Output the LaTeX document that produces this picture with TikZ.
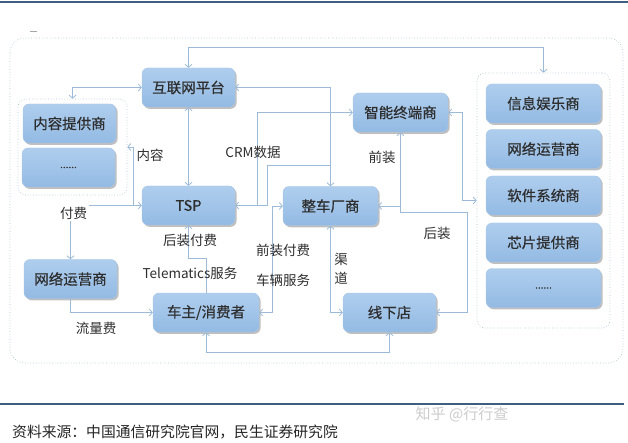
\documentclass[tikz,border=0pt]{standalone}
\usepackage{fontspec}
\setmainfont{Noto Sans CJK SC}
\newfontfamily\boxfont[FakeBold=0.5]{Noto Sans CJK SC}
\usetikzlibrary{arrows.meta,shadows}
\definecolor{boxtop}{HTML}{AFCEEE}
\definecolor{boxbot}{HTML}{93BAE3}
\definecolor{boxline}{HTML}{A9C6E6}
\definecolor{conncol}{HTML}{9DBBD8}
\definecolor{dotc}{HTML}{AFC3D6}
\definecolor{txt}{HTML}{2E2E2E}
\definecolor{rulec}{HTML}{3E5F80}
\tikzset{
 box/.style={rounded corners=6pt, top color=boxtop, bottom color=boxbot, draw=boxline, line width=0.4pt,
   minimum width=93pt, minimum height=39pt, inner sep=0pt, font=\boxfont\fontsize{14.5}{16}\selectfont, text=txt,
   drop shadow={shadow xshift=1.6pt, shadow yshift=-1.8pt, fill=black!45, opacity=0.55}},
 grp/.style={draw=dotc, dotted, line width=0.7pt, rounded corners=8pt, inner sep=0pt},
 lbl/.style={font=\fontsize{13.5}{15}\selectfont, text=txt, inner sep=1pt},
 cline/.style={draw=conncol, line width=0.8pt},
 bi/.style={cline, {Straight Barb[length=3pt,width=7pt]}-{Straight Barb[length=3pt,width=7pt]}},
 fwd/.style={cline, -{Straight Barb[length=3pt,width=7pt]}},
}
\begin{document}
\begin{tikzpicture}[x=1pt,y=-1pt]
\useasboundingbox (0,0) rectangle (628,443);
\fill[white] (0,0) rectangle (628,443);
\draw[rulec, line width=1.3pt] (0,2) -- (628,2);
\draw[rulec, line width=1.3pt] (0,404) -- (624,404);
\draw[black!35, line width=1pt] (30,32) -- (37,32);
\draw[grp, rounded corners=15pt] (10,38) rectangle (623,363);

% groups
\node[grp, minimum width=109pt, minimum height=96pt] (lg) at (72.5,147) {};
\node[grp, minimum width=133pt, minimum height=255pt] (rg) at (543.5,200.5) {};

% boxes
\node[box] (inet) at (188.5,87.5) {互联网平台};
\node[box] (cp) at (69.5,123.5) {内容提供商};
\node[box] (cpd) at (68.5,167.5) {\fontsize{10}{12}\selectfont ......};
\node[box] (tsp) at (188.5,205.5) {TSP};
\node[box] (nop) at (70.5,279) {网络运营商};
\node[box, minimum width=106pt] (owner) at (206,312.5) {车主/消费者};
\node[box, minimum width=95pt] (oem) at (330.5,206) {整车厂商};
\node[box] (store) at (389.5,312.5) {线下店};
\node[box, minimum width=95pt] (term) at (400.5,112.5) {智能终端商};
\node[box, minimum width=115pt] (r1) at (543.5,103.5) {信息娱乐商};
\node[box, minimum width=115pt] (r2) at (543.5,149) {网络运营商};
\node[box, minimum width=115pt] (r3) at (543.5,195.5) {软件系统商};
\node[box, minimum width=115pt] (r4) at (543.5,242.5) {芯片提供商};
\node[box, minimum width=115pt] (r5) at (543.5,288) {\fontsize{10}{12}\selectfont ......};

% helper coordinates
\coordinate (ytop) at (0,47);
\coordinate (xcrm) at (257,0);
\coordinate (xoem) at (267,0);
\coordinate (ycrm2) at (0,165);
\coordinate (xcont) at (133,0);
\coordinate (ytel) at (0,258);
\coordinate (xfront) at (272,0);
\coordinate (ybot) at (0,352);
\coordinate (yrear) at (0,212);
\coordinate (xrear) at (467,0);
\coordinate (xright) at (462,0);

% connectors
\draw[bi] (inet.north) -- (inet.north |- ytop) -| (rg.north);
\draw[bi] (inet.west) -| (lg.north);
\draw[bi] (inet.east) -| (oem.north);
\draw[bi] (inet.south) -- (tsp.north);
\draw[bi] (tsp.east) -- (tsp.east -| xcrm) |- (term.west);
\draw[cline] (tsp.east -| xcrm) -- (tsp.east -| xoem) |- (oem.north |- ycrm2);
\draw[bi] (tsp.west) -| (nop.north);
\draw[fwd] (tsp.west -| xcont) |- (lg.east);
\draw[fwd] (nop.south) |- (owner.west);
\draw[fwd] (owner.north) -- (owner.north |- ytel) -| (tsp.south);
\draw[bi] (owner.east) -- (owner.east -| xfront) |- (oem.west);
\draw[bi] (oem.south) |- (store.west);
\draw[bi] (owner.south) -- (owner.south |- ybot) -| (store.south);
\draw[bi] (term.south) -- (term.south |- yrear) -- (xrear |- yrear) |- (store.east);
\draw[fwd] (term.south |- oem.east) -- (oem.east);
\draw[bi] (term.east) -- (term.east -| xright) |- (rg.west);

% labels
\node[lbl] (l1) at (150,155) {内容};
\node[lbl] (l2) at (253,152) {CRM数据};
\node[lbl, fill=white, inner sep=2pt] (l3) at (73.5,213) {付费};
\node[lbl] (l4) at (190,240) {后装付费};
\node[lbl] (l5) at (190,273) {Telematics服务};
\node[lbl] (l6) at (283,250) {前装付费};
\node[lbl] (l7) at (283,280) {车辆服务};
\node[lbl, align=center, font=\fontsize{13.5}{19}\selectfont] (l8) at (341,268.5) {渠\\道};
\node[lbl] (l9) at (382,157) {前装};
\node[lbl] (l10) at (437,233) {后装};
\node[lbl] (l11) at (96,328) {流量费};

% footer
\node[anchor=west, inner sep=0pt, text=black!85, font=\fontsize{14.8}{16}\selectfont] (src) at (12,432) {资料来源：中国通信研究院官网，民生证券研究院};
\node[text=black!20, inner sep=0pt, font=\fontsize{15}{16}\selectfont] (wm) at (462,414) {知乎 @行行查};
\end{tikzpicture}
\end{document}
